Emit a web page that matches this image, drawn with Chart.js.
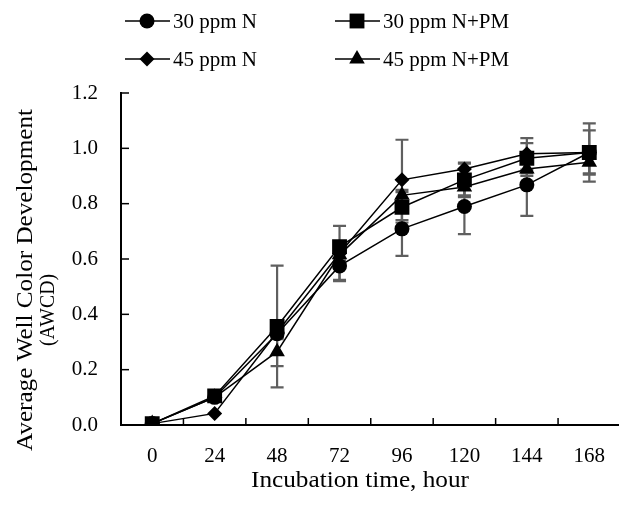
<!DOCTYPE html>
<html><head><meta charset="utf-8">
<script src="https://cdn.jsdelivr.net/npm/chart.js@4.4.1/dist/chart.umd.min.js"></script>
<style>html,body{margin:0;padding:0;overflow:hidden;background:#fff}#wrap{width:631px;height:509px}</style>
</head><body><div id="wrap"><canvas id="c" width="631" height="509"></canvas></div>
<script>
// ---- data ----
const categories = ['0', '24', '48', '72', '96', '120', '144', '168'];
const yTickValues = [0, 0.2, 0.4, 0.6, 0.8, 1.0, 1.2];
const seriesNames = ['30 ppm N', '30 ppm N+PM', '45 ppm N', '45 ppm N+PM'];
const n30 = [0.005, 0.100, 0.330, 0.575, 0.709, 0.790, 0.868, 0.985];
const n30Err = [0.004, 0.010, 0.020, 0.050, 0.098, 0.100, 0.112, 0.080];
const n30pm = [0.005, 0.105, 0.356, 0.645, 0.787, 0.886, 0.964, 0.985];
const n30pmErr = [0.004, 0.010, 0.220, 0.020, 0.055, 0.062, 0.055, 0.105];
const n45 = [0.005, 0.042, 0.335, 0.620, 0.886, 0.925, 0.980, 0.985];
const n45Err = [0.003, 0.005, 0.020, 0.100, 0.145, 0.020, 0.057, 0.020];
const n45pm = [0.005, 0.100, 0.265, 0.615, 0.830, 0.860, 0.925, 0.950];
const n45pmErr = [0.003, 0.010, 0.052, 0.020, 0.020, 0.030, 0.025, 0.040];
const xTitle = 'Incubation time, hour';
const yTitle = ['Average Well Color Development', '(AWCD)'];

const FONT = 'Liberation Serif';
const styles = ['circle', 'rect', 'rectRot', 'triangle'];
const radii = [7.5, 10.5, 7.5, 9];

function drawMarker(ctx, style, x, y, r) {
  ctx.beginPath();
  if (style === 'circle') {
    ctx.arc(x, y, r, 0, Math.PI * 2);
  } else if (style === 'rect') {
    const s = Math.SQRT1_2 * r;
    ctx.rect(x - s, y - s, 2 * s, 2 * s);
  } else if (style === 'rectRot') {
    ctx.moveTo(x - r, y); ctx.lineTo(x, y - r); ctx.lineTo(x + r, y); ctx.lineTo(x, y + r);
  } else if (style === 'triangle') {
    let a = 0;
    ctx.moveTo(x + Math.sin(a) * r, y - Math.cos(a) * r);
    a += Math.PI * 2 / 3; ctx.lineTo(x + Math.sin(a) * r, y - Math.cos(a) * r);
    a += Math.PI * 2 / 3; ctx.lineTo(x + Math.sin(a) * r, y - Math.cos(a) * r);
  }
  ctx.closePath();
  ctx.fillStyle = '#000';
  ctx.fill();
}

// draw text, lightly stretched to a target width
function fitText(ctx, text, x, y, targetW, rot) {
  ctx.save();
  ctx.translate(x, y);
  if (rot) ctx.rotate(rot);
  const w = ctx.measureText(text).width;
  ctx.scale(targetW / w, 1);
  ctx.fillText(text, 0, 0);
  ctx.restore();
}

const errs = [n30Err, n30pmErr, n45Err, n45pmErr];

const decor = {
  id: 'decor',
  beforeDatasetsDraw(chart) {
    const ctx = chart.ctx, xs = chart.scales.x, ys = chart.scales.y;
    ctx.save();
    ctx.strokeStyle = '#5f5f5f';
    ctx.lineWidth = 2.2;
    chart.data.datasets.forEach((ds, di) => {
      ds.data.forEach((v, i) => {
        const e = errs[di][i];
        if (e < 0.015) return;
        const x = xs.getPixelForValue(i);
        const yt = ys.getPixelForValue(v + e), yb = ys.getPixelForValue(v - e);
        ctx.beginPath();
        ctx.moveTo(x, yt); ctx.lineTo(x, yb);
        ctx.moveTo(x - 6.5, yt); ctx.lineTo(x + 6.5, yt);
        ctx.moveTo(x - 6.5, yb); ctx.lineTo(x + 6.5, yb);
        ctx.stroke();
      });
    });
    ctx.restore();
  },
  afterDraw(chart) {
    const ctx = chart.ctx, xs = chart.scales.x, ys = chart.scales.y;
    const area = chart.chartArea;
    ctx.save();
    ctx.strokeStyle = '#000';
    ctx.lineWidth = 1.5;
    yTickValues.forEach(v => {
      if (v === 0) return;
      const py = ys.getPixelForValue(v);
      ctx.beginPath(); ctx.moveTo(area.left, py); ctx.lineTo(area.left + 8, py); ctx.stroke();
    });
    const w = (area.right - area.left) / categories.length;
    for (let i = 1; i <= categories.length; i++) {
      const px = area.left + i * w;
      ctx.beginPath(); ctx.moveTo(px, area.bottom); ctx.lineTo(px, area.bottom - 7); ctx.stroke();
    }
    // legend
    const pos = [[125, 21], [335, 21], [125, 59], [335, 59]];
    ctx.font = '21px "' + FONT + '"';
    ctx.textBaseline = 'middle';
    ctx.textAlign = 'left';
    seriesNames.forEach((name, i) => {
      const [lx, ly] = pos[i];
      ctx.strokeStyle = '#000'; ctx.lineWidth = 1.5;
      ctx.beginPath(); ctx.moveTo(lx, ly); ctx.lineTo(lx + 45, ly); ctx.stroke();
      drawMarker(ctx, styles[i], lx + 22, ly, radii[i]);
      ctx.fillStyle = '#000';
      ctx.fillText(name, lx + 48, ly + 1);
    });
    // axis titles
    ctx.textAlign = 'center';
    ctx.font = '23px "' + FONT + '"';
    fitText(ctx, xTitle, 360, 481, 218, 0);
    fitText(ctx, yTitle[0], 26, 280, 342, -Math.PI / 2);
    ctx.font = '22px "' + FONT + '"';
    fitText(ctx, yTitle[1], 48, 310, 72, -Math.PI / 2);
    ctx.restore();
  }
};

const allSeries = [n30, n30pm, n45, n45pm];
const datasets = allSeries.map((d, i) => ({
  label: seriesNames[i],
  data: d,
  borderColor: '#000',
  borderWidth: 1.5,
  backgroundColor: '#000',
  pointStyle: styles[i],
  pointRadius: radii[i],
  pointBorderWidth: 0,
  pointBackgroundColor: '#000',
  tension: 0,
  fill: false
}));

new Chart(document.getElementById('c'), {
  type: 'line',
  data: { labels: categories, datasets },
  options: {
    responsive: false,
    animation: false,
    devicePixelRatio: 1,
    layout: { padding: { top: 93, right: 4, left: 0, bottom: 0 } },
    plugins: { legend: { display: false }, tooltip: { enabled: false } },
    scales: {
      x: {
        type: 'category',
        offset: true,
        grid: { display: false, drawTicks: false },
        border: { display: true, color: '#000', width: 2 },
        ticks: { color: '#000', font: { family: FONT, size: 21 }, padding: 19, maxRotation: 0, autoSkip: false },
        afterFit(s) { s.height = 84; }
      },
      y: {
        min: 0, max: 1.2,
        afterBuildTicks(s) { s.ticks = yTickValues.map(v => ({ value: v })); },
        grid: { display: false, drawTicks: false },
        border: { display: true, color: '#000', width: 2 },
        ticks: { color: '#000', font: { family: FONT, size: 21 }, padding: 23, callback: v => Number(v).toFixed(1) },
        afterFit(s) { s.width = 121; }
      }
    }
  },
  plugins: [decor]
});
</script>
</body></html>
